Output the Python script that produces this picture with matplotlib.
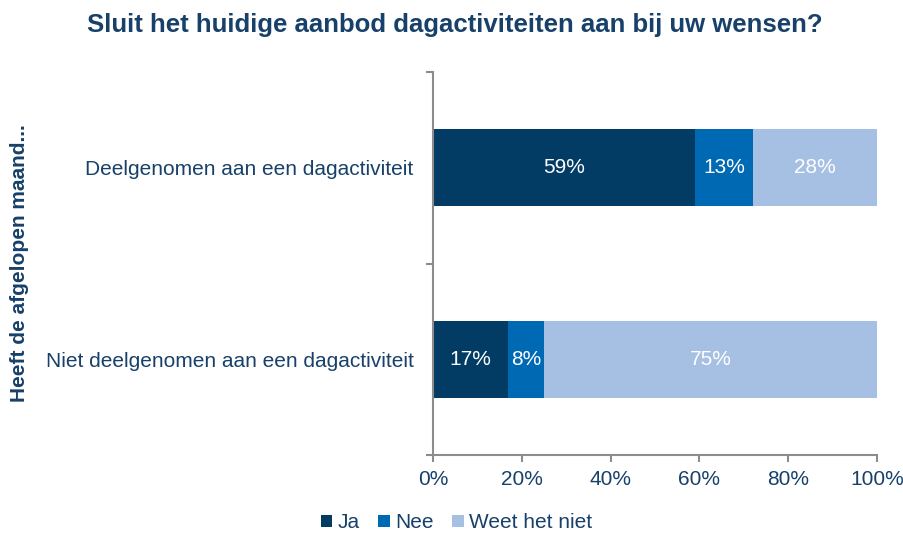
import numpy as np
import matplotlib
matplotlib.use("Agg")
import matplotlib.pyplot as plt

plt.rcParams['font.family'] = ['Liberation Sans', 'DejaVu Sans']

categories = ["Deelgenomen aan een dagactiviteit", "Niet deelgenomen aan een dagactiviteit"]
series = ["Ja", "Nee", "Weet het niet"]
ja = [59, 17]
nee = [13, 8]
weet_niet = [28, 75]
colors = ["#023B63", "#0069B4", "#A6C0E3"]
text_col = "#17406A"

fig = plt.figure(figsize=(9.04, 5.35), dpi=100)
ax = fig.add_axes([433/904, 1 - 455/535, 444/904, 383/535])

y = np.arange(len(categories))
left = np.zeros(len(categories))
for name, vals, c in zip(series, [ja, nee, weet_niet], colors):
    bars = ax.barh(y, vals, left=left, height=0.4, color=c, label=name)
    for b, v in zip(bars, vals):
        ax.text(b.get_x() + b.get_width() / 2, b.get_y() + b.get_height() / 2,
                f"{v}%", ha="center", va="center", color="white", fontsize=15)
    left += np.array(vals)

ax.set_xlim(0, 100)
ax.set_ylim(1.5, -0.5)
ax.set_xticks(np.arange(0, 101, 20))
ax.set_xticklabels([f"{t}%" for t in range(0, 101, 20)], color=text_col, fontsize=15)
ax.set_yticks(y)
ax.set_yticklabels(categories, color=text_col, fontsize=15)
ax.set_yticks([-0.5, 0.5, 1.5], minor=True)
ax.tick_params(axis="y", which="major", length=0, pad=14)
ax.tick_params(axis="y", which="minor", length=5, color="#8C8C8C", width=1.5)
ax.tick_params(axis="x", length=5, color="#8C8C8C", width=1.5, pad=6)
for s in ["top", "right"]:
    ax.spines[s].set_visible(False)
for s in ["left", "bottom"]:
    ax.spines[s].set_color("#8C8C8C")
    ax.spines[s].set_linewidth(1.5)

ax.set_ylabel("Heeft de afgelopen maand...", fontsize=15, fontweight="bold", color=text_col)
ax.yaxis.set_label_coords(-404/444, 0.5)

fig.suptitle("Sluit het huidige aanbod dagactiviteiten aan bij uw wensen?",
             x=0.503, y=0.975, fontsize=18.5, fontweight="bold", color=text_col)

leg = fig.legend(loc="lower center", bbox_to_anchor=(0.505, -0.022), ncol=3, frameon=False,
                 fontsize=15, handlelength=0.55, handleheight=0.55, handletextpad=0.25,
                 columnspacing=0.9, borderpad=0.2)
for t in leg.get_texts():
    t.set_color(text_col)

fig.savefig("out.png", dpi=100)
